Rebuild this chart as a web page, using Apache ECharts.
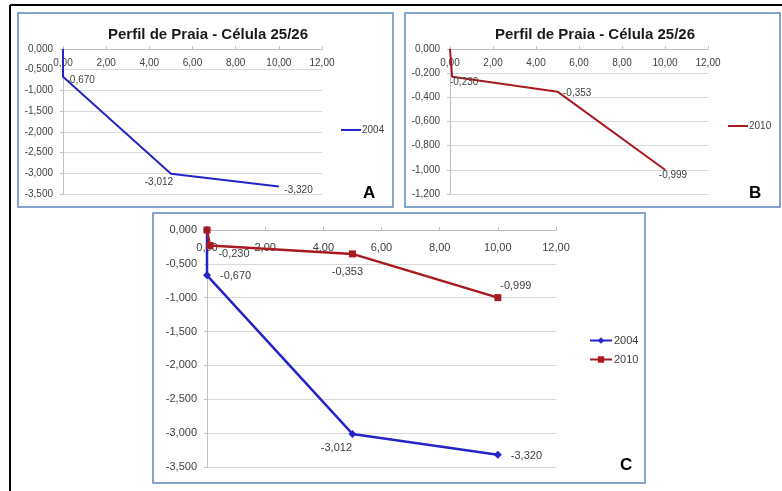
<!DOCTYPE html>
<html>
<head>
<meta charset="utf-8">
<script src="https://cdn.jsdelivr.net/npm/echarts@6/dist/echarts.min.js"></script>
<style>
  html, body { margin: 0; padding: 0; background: #fff; }
  #chart { width: 782px; height: 491px; }
</style>
</head>
<body>
<div id="chart"></div>
<script>
  // perfil de praia, célula 25/26
  const titleText = "Perfil de Praia - Célula 25/26"
  const xTicks = [0, 12, 2] // min, max, interval
  const dist2004 = [0, 0, 5, 10]
  const cota2004 = [0, -0.670, -3.012, -3.320]
  const dist2010 = [0, 0.1, 5, 10]
  const cota2010 = [0, -0.230, -0.353, -0.999]
  const yRangeA = [-3.5, 0, 0.5]
  const yRangeB = [-1.2, 0, 0.2]
  const yRangeC = [-3.5, 0, 0.5]

  const blue = "#2424c8"
  const red = "#a81a1e"
  const txt = "#404040"

  const fmt = (v, d) => Number(v).toFixed(d).replace(".", ",").replace(/^-(0,0+)$/, "$1")

  // label placement per point (style, not data)
  const place = {
    A: [null, ["right", [-2, 3]], ["bottom", [-12, -2]], ["right", [0, 4]]],
    B: [null, ["bottom", [12, -5]], ["right", [0, 2]], ["bottom", [8, -5]]],
    C04: [null, ["right", [4, 1]], ["bottom", [-16, 0]], ["right", [4, 1]]],
    C10: [null, ["right", [0, 8]], ["bottom", [-5, 4]], ["top", [18, 2]]],
  }

  function pts(xs, ys, pl) {
    return xs.map((x, i) => {
      const it = { value: [x, ys[i]] }
      if (pl[i]) {
        it.label = { position: pl[i][0], offset: pl[i][1] }
      }
      return it
    })
  }

  // x axis sits on the zero line (top of the plot), labels hang below it
  function xAx(gi, fs, margin) {
    return {
      gridIndex: gi, type: "value", position: "top",
      min: xTicks[0], max: xTicks[1], interval: xTicks[2],
      axisLine: { lineStyle: { color: "#bfbfbf" } },
      axisTick: { show: true, length: 3, lineStyle: { color: "#bfbfbf" } },
      axisLabel: { inside: true, color: txt, fontSize: fs, margin: margin, formatter: (v) => fmt(v, 2) },
      splitLine: { show: false },
    }
  }
  function yAx(gi, r, fs, margin) {
    return {
      gridIndex: gi, type: "value", min: r[0], max: r[1], interval: r[2],
      axisLine: { show: true, lineStyle: { color: "#bfbfbf" } },
      axisTick: { show: true, length: 3, lineStyle: { color: "#bfbfbf" } },
      axisLabel: { color: txt, fontSize: fs, margin: margin, formatter: (v) => fmt(v, 3) },
      splitLine: { show: true, lineStyle: { color: "#d9d9d9" } },
    }
  }
  const lab = (fs) => ({
    show: true, color: txt, fontSize: fs,
    formatter: (p) => (p.dataIndex === 0 ? "" : fmt(p.value[1], 3)),
  })

  const font = "'Liberation Sans', Arial, sans-serif"
  const chart = echarts.init(document.getElementById("chart"))
  const option = {
    animation: false,
    textStyle: { fontFamily: font },
    title: [
      { text: titleText, left: 203, top: 22, textAlign: "center",
        textStyle: { fontSize: 15, fontWeight: "bold", color: "#1a1a1a" } },
      { text: titleText, left: 590, top: 22, textAlign: "center",
        textStyle: { fontSize: 15, fontWeight: "bold", color: "#1a1a1a" } },
    ],
    grid: [
      { left: 63, top: 49, width: 259, height: 145, outerBoundsMode: "none" },
      { left: 450, top: 49, width: 258, height: 145, outerBoundsMode: "none" },
      { left: 207, top: 230, width: 349, height: 237, outerBoundsMode: "none" },
    ],
    xAxis: [xAx(0, 10, 9), xAx(1, 10, 9), xAx(2, 11, 12)],
    yAxis: [yAx(0, yRangeA, 10, 10), yAx(1, yRangeB, 10, 10), yAx(2, yRangeC, 11, 10)],
    legend: [
      { data: ["A2004"], left: 336, top: 120, icon: "rect", itemWidth: 20, itemHeight: 2,
        formatter: (n) => n.slice(1), textStyle: { fontSize: 10, color: txt, padding: [0, 0, 0, -4] } },
      { data: ["B2010"], left: 723, top: 116, icon: "rect", itemWidth: 20, itemHeight: 2,
        formatter: (n) => n.slice(1), textStyle: { fontSize: 10, color: txt, padding: [0, 0, 0, -4] } },
      { data: ["C2004", "C2010"], left: 584, top: 330, orient: "vertical", itemGap: 8,
        itemWidth: 22, itemHeight: 8,
        formatter: (n) => n.slice(1), textStyle: { fontSize: 11, color: txt, padding: [0, 0, 0, -3] } },
    ],
    series: [
      { name: "A2004", type: "line", xAxisIndex: 0, yAxisIndex: 0,
        symbol: "circle", symbolSize: 1, color: blue, lineStyle: { width: 2, color: blue },
        label: lab(10), data: pts(dist2004, cota2004, place.A) },
      { name: "B2010", type: "line", xAxisIndex: 1, yAxisIndex: 1,
        symbol: "circle", symbolSize: 1, color: red, lineStyle: { width: 2, color: red },
        label: lab(10), data: pts(dist2010, cota2010, place.B) },
      { name: "C2004", type: "line", xAxisIndex: 2, yAxisIndex: 2,
        symbol: "diamond", symbolSize: 8, color: blue, itemStyle: { color: blue },
        lineStyle: { width: 2.5, color: blue },
        label: lab(11), data: pts(dist2004, cota2004, place.C04) },
      { name: "C2010", type: "line", xAxisIndex: 2, yAxisIndex: 2,
        symbol: "rect", symbolSize: 7, color: red, itemStyle: { color: red },
        lineStyle: { width: 2.5, color: red },
        label: lab(11), data: pts(dist2010, cota2010, place.C10) },
    ],
    graphic: [
      { type: "line", shape: { x1: 10, y1: 5, x2: 782, y2: 5 }, style: { stroke: "#000", lineWidth: 2 } },
      { type: "line", shape: { x1: 10, y1: 5, x2: 10, y2: 491 }, style: { stroke: "#000", lineWidth: 2 } },
      { type: "rect", shape: { x: 18, y: 13, width: 375, height: 194 }, style: { fill: "none", stroke: "#5b87c0", lineWidth: 1.5 } },
      { type: "rect", shape: { x: 405, y: 13, width: 375, height: 194 }, style: { fill: "none", stroke: "#5b87c0", lineWidth: 1.5 } },
      { type: "rect", shape: { x: 153, y: 213, width: 492, height: 270 }, style: { fill: "none", stroke: "#5b87c0", lineWidth: 1.5 } },
      { type: "text", left: 363, top: 185, style: { text: "A", font: "bold 17px Arial, 'Liberation Sans'", fill: "#000" } },
      { type: "text", left: 749, top: 185, style: { text: "B", font: "bold 17px Arial, 'Liberation Sans'", fill: "#000" } },
      { type: "text", left: 620, top: 457, style: { text: "C", font: "bold 17px Arial, 'Liberation Sans'", fill: "#000" } },
    ],
  }
  chart.setOption(option)
</script>
</body>
</html>
